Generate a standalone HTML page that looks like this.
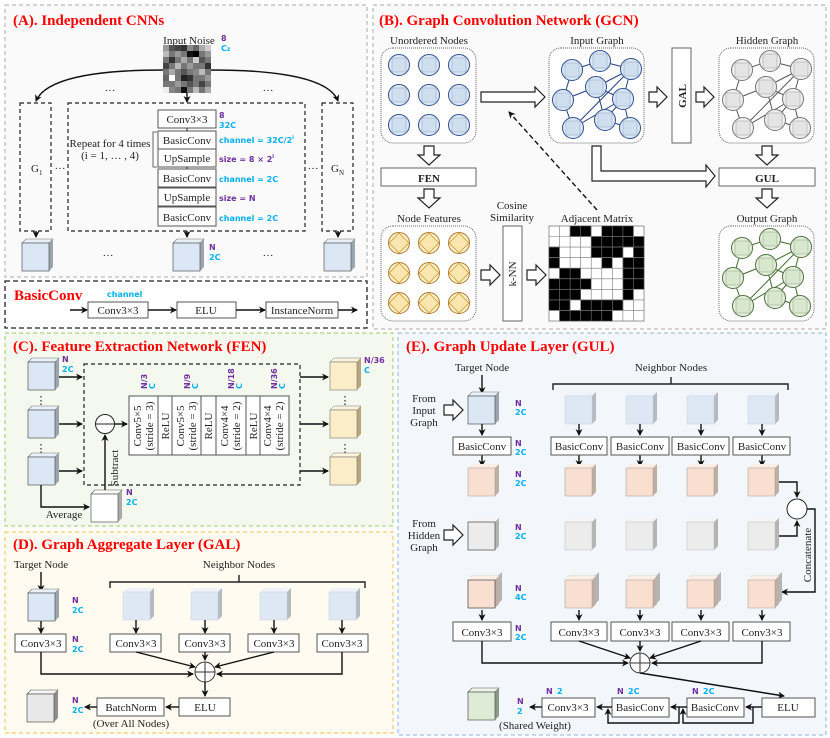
<!DOCTYPE html>
<html><head><meta charset="utf-8"><style>
html,body{margin:0;padding:0;background:#fff}
svg{display:block}
text{font-family:"Liberation Serif",serif;font-size:11px;fill:#222}
.t{font-weight:bold;font-size:15px;fill:#f00}
.p{font-family:"DejaVu Sans",sans-serif;font-weight:bold;font-size:8px;fill:#7030a0}
.c{font-family:"DejaVu Sans",sans-serif;font-weight:bold;font-size:8px;fill:#00b0f0}
.bx{fill:#fff;stroke:#555;stroke-width:1}
.ln{fill:none;stroke:#111;stroke-width:1.4}
.ha{fill:#fff;stroke:#222;stroke-width:1.2}
</style></head><body>
<svg width="830" height="738" viewBox="0 0 830 738" xmlns="http://www.w3.org/2000/svg">
<defs>
<marker id="ar" markerWidth="8" markerHeight="8" refX="6" refY="4" orient="auto" markerUnits="userSpaceOnUse"><path d="M0,0.5 L7,4 L0,7.5 L2,4z" fill="#111"/></marker>
<g id="cB"><polygon points="0,0 4,-4 31,-4 27,0" fill="#eaf0f8" stroke="#777" stroke-width=".6"/><polygon points="27,0 31,-4 31,24 27,28" fill="#9ca4ae"/><rect x="0" y="0" width="27" height="28" fill="#dbe7f4" stroke="#555" stroke-width=".7"/></g>
<g id="cBl"><polygon points="0,0 4,-4 31,-4 27,0" fill="#eef3f9"/><polygon points="27,0 31,-4 31,24 27,28" fill="#b4bac2"/><rect x="0" y="0" width="27" height="28" fill="#dde8f4" stroke="#ccd" stroke-width=".5"/></g>
<g id="cP"><polygon points="0,0 4,-4 31,-4 27,0" fill="#fbeee6"/><polygon points="27,0 31,-4 31,24 27,28" fill="#bfaea2"/><rect x="0" y="0" width="27" height="28" fill="#f9dfcf" stroke="#999" stroke-width=".5"/></g>
<g id="cG"><polygon points="0,0 4,-4 31,-4 27,0" fill="#f4f4f4"/><polygon points="27,0 31,-4 31,24 27,28" fill="#b4b4b4"/><rect x="0" y="0" width="27" height="28" fill="#ececec" stroke="#bbb" stroke-width=".5"/></g>
<g id="cGd"><polygon points="0,0 4,-4 31,-4 27,0" fill="#f4f4f4" stroke="#555" stroke-width=".6"/><polygon points="27,0 31,-4 31,24 27,28" fill="#8e8e8e"/><rect x="0" y="0" width="27" height="28" fill="#e8e8e8" stroke="#555" stroke-width=".7"/></g>
<g id="cY"><polygon points="0,0 4,-4 31,-4 27,0" fill="#fdf4dc" stroke="#777" stroke-width=".5"/><polygon points="27,0 31,-4 31,24 27,28" fill="#b8a67a"/><rect x="0" y="0" width="27" height="28" fill="#fbedc8" stroke="#777" stroke-width=".6"/></g>
<g id="cW"><polygon points="0,0 4,-4 31,-4 27,0" fill="#fff" stroke="#555" stroke-width=".6"/><polygon points="27,0 31,-4 31,24 27,28" fill="#aaa"/><rect x="0" y="0" width="27" height="28" fill="#fff" stroke="#555" stroke-width=".7"/></g>
<g id="cGr"><polygon points="0,0 4,-4 31,-4 27,0" fill="#eef5ea" stroke="#555" stroke-width=".6"/><polygon points="27,0 31,-4 31,24 27,28" fill="#8a9886"/><rect x="0" y="0" width="27" height="28" fill="#deecd6" stroke="#555" stroke-width=".7"/></g>
<g id="nb"><circle r="10.5" fill="#dbe7f4" stroke="#2f4f8f" stroke-width="1"/><rect x="-7" y="-7" width="14" height="14" fill="#cfdff0" stroke="#9fb0c8" stroke-width=".6"/></g>
<g id="ng"><circle r="10.5" fill="#eeeeee" stroke="#777" stroke-width="1"/><rect x="-7" y="-7" width="14" height="14" fill="#e4e4e4" stroke="#aaa" stroke-width=".6"/></g>
<g id="ngr"><circle r="10.5" fill="#e4f0dc" stroke="#4f6f3f" stroke-width="1"/><rect x="-7" y="-7" width="14" height="14" fill="#d8e8cf" stroke="#9aaa92" stroke-width=".6"/></g>
<g id="ny"><circle r="10.5" fill="#fdeec8" stroke="#b07a30" stroke-width="1"/><rect x="-7" y="-7" width="14" height="14" transform="rotate(45)" fill="#fbe6b0" stroke="#c99a2a" stroke-width=".8"/></g>
<g id="edges"><path d="M23,22 L51,13 L82,21 M23,22 L14,52 L47,39 L82,21 M82,21 L74,51 M82,21 L24,80 M74,51 L56,72 L81,80 M74,51 L81,80 M47,39 L56,72 M14,52 L24,80 M24,80 L74,51 M47,39 L74,51" fill="none" stroke-width="1"/></g>
<g id="gnodes"></g>
</defs>

<!-- Panel A -->
<rect x="5" y="5" width="362" height="272" fill="#fafafa" stroke="#aaa" stroke-dasharray="4,3"/>
<text x="13" y="25" class="t">(A).  Independent CNNs</text>
<text x="189" y="44" text-anchor="middle">Input Noise</text>
<text x="221" y="41" class="p">8</text><text x="221" y="51" class="c">C<tspan font-size="6">z</tspan></text>
<g>
<rect x="163" y="45" width="48" height="48" fill="#777"/>
<rect x="163" y="45" width="6" height="6" fill="#9a9a9a"/><rect x="169" y="45" width="6" height="6" fill="#555"/><rect x="175" y="45" width="6" height="6" fill="#444"/><rect x="181" y="45" width="6" height="6" fill="#333"/><rect x="187" y="45" width="6" height="6" fill="#888"/><rect x="193" y="45" width="6" height="6" fill="#666"/><rect x="199" y="45" width="6" height="6" fill="#aaa"/><rect x="205" y="45" width="6" height="6" fill="#ccc"/>
<rect x="163" y="51" width="6" height="6" fill="#bbb"/><rect x="175" y="51" width="6" height="6" fill="#999"/><rect x="187" y="51" width="6" height="6" fill="#111"/><rect x="193" y="51" width="6" height="6" fill="#000"/><rect x="205" y="51" width="6" height="6" fill="#999"/>
<rect x="169" y="57" width="6" height="6" fill="#333"/><rect x="181" y="57" width="6" height="6" fill="#aaa"/><rect x="193" y="57" width="6" height="6" fill="#ccc"/><rect x="199" y="57" width="6" height="6" fill="#555"/>
<rect x="163" y="63" width="6" height="6" fill="#444"/><rect x="175" y="63" width="6" height="6" fill="#bbb"/><rect x="187" y="63" width="6" height="6" fill="#999"/><rect x="205" y="63" width="6" height="6" fill="#333"/>
<rect x="169" y="69" width="6" height="6" fill="#aaa"/><rect x="181" y="69" width="6" height="6" fill="#555"/><rect x="193" y="69" width="6" height="6" fill="#888"/><rect x="199" y="69" width="6" height="6" fill="#bbb"/>
<rect x="163" y="75" width="6" height="6" fill="#666"/><rect x="169" y="75" width="6" height="6" fill="#fff"/><rect x="181" y="75" width="6" height="6" fill="#222"/><rect x="187" y="75" width="6" height="6" fill="#333"/><rect x="205" y="75" width="6" height="6" fill="#999"/>
<rect x="175" y="81" width="6" height="6" fill="#999"/><rect x="187" y="81" width="6" height="6" fill="#555"/><rect x="199" y="81" width="6" height="6" fill="#444"/>
<rect x="163" y="87" width="6" height="6" fill="#eee"/><rect x="169" y="87" width="6" height="6" fill="#888"/><rect x="181" y="87" width="6" height="6" fill="#111"/><rect x="193" y="87" width="6" height="6" fill="#bbb"/><rect x="205" y="87" width="6" height="6" fill="#aaa"/>
</g>
<path class="ln" d="M163,70 C90,70 45,80 36,101" marker-end="url(#ar)"/>
<path class="ln" d="M211,70 C285,70 330,80 338,101" marker-end="url(#ar)"/>
<path class="ln" d="M187,93 L187,102" marker-end="url(#ar)"/>
<text x="110" y="94" text-anchor="middle">···</text><text x="268" y="94" text-anchor="middle">···</text>
<g fill="none" stroke="#222" stroke-dasharray="4,3" stroke-width="1.2">
<rect x="20" y="103" width="31" height="128"/><rect x="68" y="103" width="237" height="128"/><rect x="322" y="103" width="31" height="128"/></g>
<text x="31" y="172">G<tspan font-size="7" dy="3">1</tspan></text>
<text x="331" y="172">G<tspan font-size="7" dy="3">N</tspan></text>
<text x="60" y="172" text-anchor="middle">···</text><text x="313" y="172" text-anchor="middle">···</text>
<g class="bx"><rect x="158" y="110" width="58" height="18"/><rect x="158" y="131" width="58" height="18"/><rect x="158" y="149" width="58" height="18"/><rect x="158" y="169" width="58" height="18"/><rect x="158" y="188" width="58" height="18"/><rect x="158" y="207" width="58" height="19"/></g>
<g text-anchor="middle"><text x="187" y="123">Conv3×3</text><text x="187" y="144">BasicConv</text><text x="187" y="162">UpSample</text><text x="187" y="182">BasicConv</text><text x="187" y="201">UpSample</text><text x="187" y="221">BasicConv</text></g>
<path d="M187,128 V131 M187,167 V169" stroke="#222"/>
<text x="219" y="118" class="p">8</text><text x="219" y="128" class="c">32C</text>
<text x="219" y="143" class="c">channel = 32C/2<tspan font-size="5" dy="-4">i</tspan></text>
<text x="219" y="162" class="p">size = 8 × 2<tspan font-size="5" dy="-4">i</tspan></text>
<text x="219" y="182" class="c">channel = 2C</text>
<text x="219" y="201" class="p">size = N</text>
<text x="219" y="221" class="c">channel = 2C</text>
<path d="M157,132 H153 V167 H157" fill="none" stroke="#666"/>
<text x="110" y="147" text-anchor="middle" font-size="9.5">Repeat for 4 times</text>
<text x="110" y="159" text-anchor="middle" font-size="9.5">(i = 1, … , 4)</text>
<path class="ln" d="M36,231 V237" marker-end="url(#ar)"/><path class="ln" d="M187,231 V237" marker-end="url(#ar)"/><path class="ln" d="M338,231 V237" marker-end="url(#ar)"/>
<use href="#cB" x="22" y="243"/><use href="#cB" x="173" y="243"/><use href="#cB" x="324" y="243"/>
<text x="209" y="250" class="p">N</text><text x="209" y="260" class="c">2C</text>
<text x="108" y="259" text-anchor="middle">···</text><text x="268" y="259" text-anchor="middle">···</text>

<!-- BasicConv -->
<rect x="5" y="281" width="362" height="47" fill="#fff" stroke="#222" stroke-dasharray="5,3" stroke-width="1.3"/>
<text x="14" y="300" class="t">BasicConv</text>
<text x="107" y="297" class="c" font-size="8.5">channel</text>
<g class="bx"><rect x="88" y="302" width="60" height="16"/><rect x="177" y="302" width="59" height="16"/><rect x="266" y="302" width="72" height="16"/></g>
<g text-anchor="middle"><text x="118" y="314">Conv3×3</text><text x="206" y="314">ELU</text><text x="302" y="314">InstanceNorm</text></g>
<path class="ln" d="M70,310 H87" marker-end="url(#ar)"/><path class="ln" d="M148,310 H176" marker-end="url(#ar)"/><path class="ln" d="M236,310 H265" marker-end="url(#ar)"/><path class="ln" d="M338,310 H357" marker-end="url(#ar)"/>

<!-- Panel B -->
<rect x="373" y="5" width="453" height="324" fill="#fafafa" stroke="#aaa" stroke-dasharray="4,3"/>
<text x="379" y="25" class="t">(B).  Graph Convolution Network (GCN)</text>
<g text-anchor="middle"><text x="429" y="44">Unordered Nodes</text><text x="597" y="44">Input Graph</text><text x="767" y="44">Hidden Graph</text><text x="429" y="222">Node Features</text><text x="597" y="222">Adjacent Matrix</text><text x="767" y="222">Output Graph</text><text x="512" y="209">Cosine</text><text x="512" y="221">Similarity</text></g>
<g fill="#fff" stroke="#666" stroke-dasharray="1,1"><rect x="381" y="48" width="95" height="95" rx="12"/><rect x="549" y="48" width="95" height="95" rx="12"/><rect x="719" y="48" width="95" height="95" rx="12"/><rect x="381" y="226" width="95" height="95" rx="12"/><rect x="719" y="226" width="95" height="95" rx="12"/></g>
<use href="#nb" x="399" y="65"/><use href="#nb" x="429" y="65"/><use href="#nb" x="459" y="65"/><use href="#nb" x="399" y="95"/><use href="#nb" x="429" y="95"/><use href="#nb" x="459" y="95"/><use href="#nb" x="399" y="125"/><use href="#nb" x="429" y="125"/><use href="#nb" x="459" y="125"/>
<use href="#ny" x="399" y="243"/><use href="#ny" x="429" y="243"/><use href="#ny" x="459" y="243"/><use href="#ny" x="399" y="273"/><use href="#ny" x="429" y="273"/><use href="#ny" x="459" y="273"/><use href="#ny" x="399" y="303"/><use href="#ny" x="429" y="303"/><use href="#ny" x="459" y="303"/>
<g transform="translate(549,48)"><use href="#edges" stroke="#1f3f80"/><use href="#nb" x="23" y="22"/><use href="#nb" x="51" y="13"/><use href="#nb" x="82" y="21"/><use href="#nb" x="47" y="39"/><use href="#nb" x="14" y="52"/><use href="#nb" x="74" y="51"/><use href="#nb" x="24" y="80"/><use href="#nb" x="56" y="72"/><use href="#nb" x="81" y="80"/></g>
<g transform="translate(719,48)"><use href="#edges" stroke="#555"/><use href="#ng" x="23" y="22"/><use href="#ng" x="51" y="13"/><use href="#ng" x="82" y="21"/><use href="#ng" x="47" y="39"/><use href="#ng" x="14" y="52"/><use href="#ng" x="74" y="51"/><use href="#ng" x="24" y="80"/><use href="#ng" x="56" y="72"/><use href="#ng" x="81" y="80"/></g>
<g transform="translate(719,226)"><use href="#edges" stroke="#3f6a2a"/><use href="#ngr" x="23" y="22"/><use href="#ngr" x="51" y="13"/><use href="#ngr" x="82" y="21"/><use href="#ngr" x="47" y="39"/><use href="#ngr" x="14" y="52"/><use href="#ngr" x="74" y="51"/><use href="#ngr" x="24" y="80"/><use href="#ngr" x="56" y="72"/><use href="#ngr" x="81" y="80"/></g>
<!-- hollow arrows -->
<polygon class="ha" points="481,92 535,92 535,87 545,97 535,107 535,102 481,102"/>
<polygon class="ha" points="649,92 657,92 657,87 667,97 657,107 657,102 649,102"/>
<polygon class="ha" points="696,92 704,92 704,87 714,97 704,107 704,102 696,102"/>
<polygon class="ha" points="481,270 490,270 490,265 500,275 490,285 490,280 481,280"/>
<polygon class="ha" points="527,270 536,270 536,265 546,275 536,285 536,280 527,280"/>
<polygon class="ha" points="424,146 434,146 434,155 440,155 429,165 418,155 424,155"/>
<polygon class="ha" points="424,189 434,189 434,198 440,198 429,208 418,198 424,198"/>
<polygon class="ha" points="762,146 772,146 772,155 778,155 767,165 756,155 762,155"/>
<polygon class="ha" points="762,189 772,189 772,198 778,198 767,208 756,198 762,198"/>
<polygon class="ha" points="592,146 601,146 601,171 706,171 706,165 715,176 706,187 706,181 592,181"/>
<rect x="381" y="168" width="95" height="18" fill="#fff" stroke="#666"/><text x="429" y="182" text-anchor="middle" font-weight="bold" font-size="12" fill="#f00">FEN</text>
<rect x="719" y="168" width="96" height="18" fill="#fff" stroke="#666"/><text x="767" y="182" text-anchor="middle" font-weight="bold" font-size="12" fill="#f00">GUL</text>
<rect x="672" y="48" width="19" height="95" fill="#fff" stroke="#666"/><text transform="translate(686,96) rotate(-90)" text-anchor="middle" font-weight="bold" font-size="12" fill="#f00">GAL</text>
<rect x="503" y="226" width="19" height="95" fill="#fff" stroke="#666"/><text transform="translate(516,274) rotate(-90)" text-anchor="middle">k-NN</text>
<path d="M597,210 L509,112" stroke="#111" stroke-width="1.4" stroke-dasharray="5,3" fill="none" marker-end="url(#ar)"/>
<g transform="translate(549,226)" stroke="#555" stroke-width=".6">
<rect width="95" height="95" fill="#fff"/>
<g fill="#000">
<rect x="21" y="0" width="21" height="10.5"/><rect x="52.7" y="0" width="31.7" height="10.5"/>
<rect x="42.2" y="10.5" width="52.8" height="10.5"/>
<rect x="0" y="21" width="10.5" height="10.5"/><rect x="42.2" y="21" width="31.7" height="10.5"/><rect x="84.4" y="21" width="10.6" height="10.5"/>
<rect x="0" y="31.6" width="10.5" height="10.5"/><rect x="52.7" y="31.6" width="10.5" height="10.5"/><rect x="73.9" y="31.6" width="21.1" height="10.5"/>
<rect x="10.5" y="42.2" width="21" height="10.5"/><rect x="73.9" y="42.2" width="21.1" height="10.5"/>
<rect x="0" y="52.7" width="42.2" height="10.5"/><rect x="73.9" y="52.7" width="21.1" height="10.5"/>
<rect x="0" y="63.3" width="31.7" height="10.5"/><rect x="73.9" y="63.3" width="10.5" height="10.5"/>
<rect x="0" y="73.8" width="21.1" height="10.5"/><rect x="31.7" y="73.8" width="42.2" height="10.5"/>
<rect x="10.5" y="84.4" width="52.8" height="10.6"/>
</g>
<path d="M10.5,0V95M21.1,0V95M31.7,0V95M42.2,0V95M52.8,0V95M63.3,0V95M73.9,0V95M84.4,0V95M0,10.5H95M0,21.1H95M0,31.7H95M0,42.2H95M0,52.8H95M0,63.3H95M0,73.9H95M0,84.4H95" fill="none" stroke="#777"/>
</g>

<!-- Panel C -->
<rect x="5" y="333" width="388" height="193" fill="#f4f8ee" stroke="#9c6" stroke-dasharray="4,3"/>
<text x="13" y="351" class="t">(C).  Feature Extraction Network (FEN)</text>
<use href="#cB" x="28" y="362"/><use href="#cB" x="28" y="410"/><use href="#cB" x="28" y="457"/>
<text x="62" y="362" class="p">N</text><text x="62" y="372" class="c">2C</text>
<text x="41" y="404" text-anchor="middle">⋮</text><text x="41" y="452" text-anchor="middle">⋮</text>
<rect x="84" y="364" width="216" height="121" fill="none" stroke="#222" stroke-dasharray="4,3" stroke-width="1.2"/>
<path class="ln" d="M59,377 H82" marker-end="url(#ar)"/><path class="ln" d="M59,424 H82" marker-end="url(#ar)"/><path class="ln" d="M59,471 H82" marker-end="url(#ar)"/>
<circle cx="105" cy="424" r="9.5" fill="#fff" stroke="#222"/><path d="M96,424 H114" stroke="#222"/>
<path class="ln" d="M115,424 H127" marker-end="url(#ar)"/>
<g class="bx" fill="#fff"><rect x="129" y="396" width="160" height="59"/></g>
<path d="M158,396V455M172,396V455M201,396V455M216,396V455M246,396V455M260,396V455" stroke="#555"/>
<g text-anchor="middle">
<text transform="translate(141,426) rotate(-90)">Conv5×5</text><text transform="translate(153,426) rotate(-90)">(stride = 3)</text>
<text transform="translate(169,426) rotate(-90)">ReLU</text>
<text transform="translate(184,426) rotate(-90)">Conv5×5</text><text transform="translate(196,426) rotate(-90)">(stride = 3)</text>
<text transform="translate(212,426) rotate(-90)">ReLU</text>
<text transform="translate(228,426) rotate(-90)">Conv4×4</text><text transform="translate(240,426) rotate(-90)">(stride = 2)</text>
<text transform="translate(257,426) rotate(-90)">ReLU</text>
<text transform="translate(271,426) rotate(-90)">Conv4×4</text><text transform="translate(283,426) rotate(-90)">(stride = 2)</text>
</g>
<g><text transform="translate(147,389) rotate(-90)" class="p">N/3</text><text transform="translate(151,389) rotate(-90)" class="c" dy="4">C</text>
<text transform="translate(190,389) rotate(-90)" class="p">N/9</text><text transform="translate(194,389) rotate(-90)" class="c" dy="4">C</text>
<text transform="translate(234,389) rotate(-90)" class="p">N/18</text><text transform="translate(238,389) rotate(-90)" class="c" dy="4">C</text>
<text transform="translate(277,389) rotate(-90)" class="p">N/36</text><text transform="translate(281,389) rotate(-90)" class="c" dy="4">C</text></g>
<path class="ln" d="M300,377 H328" marker-end="url(#ar)"/><path class="ln" d="M300,424 H328" marker-end="url(#ar)"/><path class="ln" d="M300,471 H328" marker-end="url(#ar)"/>
<use href="#cY" x="330" y="362"/><use href="#cY" x="330" y="410"/><use href="#cY" x="330" y="457"/>
<text x="364" y="363" class="p">N/36</text><text x="364" y="373" class="c">C</text>
<text x="345" y="404" text-anchor="middle">⋮</text><text x="345" y="452" text-anchor="middle">⋮</text>
<use href="#cW" x="91" y="494"/>
<path class="ln" d="M41,485 V507 H89" marker-end="url(#ar)"/>
<text x="64" y="518" text-anchor="middle">Average</text>
<path class="ln" d="M105,490 V435" marker-end="url(#ar)"/>
<text transform="translate(118,468) rotate(-90)" text-anchor="middle">Subtract</text>
<text x="126" y="495" class="p">N</text><text x="126" y="505" class="c">2C</text>

<!-- Panel D -->
<rect x="5" y="532" width="388" height="201" fill="#fffbf0" stroke="#f0c040" stroke-dasharray="4,3"/>
<text x="13" y="549" class="t">(D).  Graph Aggregate Layer (GAL)</text>
<text x="41" y="568" text-anchor="middle">Target Node</text>
<text x="239" y="568" text-anchor="middle">Neighbor Nodes</text>
<path d="M110,588 V582 H365 V588 M239,582 V575" fill="none" stroke="#222" stroke-width="1.4"/>
<path class="ln" d="M41,572 V591" marker-end="url(#ar)"/>
<use href="#cB" x="28" y="593"/>
<use href="#cBl" x="123" y="592"/><use href="#cBl" x="191" y="592"/><use href="#cBl" x="260" y="592"/><use href="#cBl" x="329" y="592"/>
<text x="72" y="603" class="p">N</text><text x="72" y="613" class="c">2C</text>
<text x="72" y="642" class="p">N</text><text x="72" y="652" class="c">2C</text>
<path class="ln" d="M41,621 V633" marker-end="url(#ar)"/><path class="ln" d="M136,620 V633" marker-end="url(#ar)"/><path class="ln" d="M205,620 V633" marker-end="url(#ar)"/><path class="ln" d="M274,620 V633" marker-end="url(#ar)"/><path class="ln" d="M342,620 V633" marker-end="url(#ar)"/>
<g class="bx"><rect x="15" y="634" width="51" height="18"/><rect x="110" y="634" width="51" height="18"/><rect x="179" y="634" width="51" height="18"/><rect x="248" y="634" width="51" height="18"/><rect x="317" y="634" width="51" height="18"/></g>
<g text-anchor="middle"><text x="41" y="647">Conv3×3</text><text x="136" y="647">Conv3×3</text><text x="205" y="647">Conv3×3</text><text x="274" y="647">Conv3×3</text><text x="342" y="647">Conv3×3</text></g>
<circle cx="205" cy="672" r="10" fill="#fff" stroke="#333"/><path d="M195,672H215M205,662V682" stroke="#333"/>
<path class="ln" d="M41,652 V674 H193" marker-end="url(#ar)"/><path class="ln" d="M342,652 V674 H217" marker-end="url(#ar)"/>
<path class="ln" d="M136,652 L195,667" marker-end="url(#ar)"/><path class="ln" d="M274,652 L215,667" marker-end="url(#ar)"/><path class="ln" d="M205,652 V660" marker-end="url(#ar)"/>
<path class="ln" d="M205,682 V696" marker-end="url(#ar)"/>
<g class="bx"><rect x="179" y="698" width="51" height="18"/><rect x="97" y="698" width="67" height="18"/></g>
<text x="205" y="711" text-anchor="middle">ELU</text><text x="131" y="711" text-anchor="middle">BatchNorm</text>
<text x="131" y="727" text-anchor="middle">(Over All Nodes)</text>
<path class="ln" d="M179,707 H166" marker-end="url(#ar)"/><path class="ln" d="M97,707 H85" marker-end="url(#ar)"/>
<use href="#cGd" x="27" y="694"/>
<text x="72" y="703" class="p">N</text><text x="72" y="713" class="c">2C</text>

<!-- Panel E -->
<rect x="398" y="333" width="428" height="402" fill="#f3f7fc" stroke="#8bb4e0" stroke-dasharray="4,3"/>
<text x="406" y="351" class="t">(E).  Graph Update Layer (GUL)</text>
<text x="482" y="371" text-anchor="middle">Target Node</text>
<text x="671" y="371" text-anchor="middle">Neighbor Nodes</text>
<path d="M553,390 V384 H788 V390 M671,384 V377" fill="none" stroke="#222" stroke-width="1.4"/>
<path class="ln" d="M482,375 V393" marker-end="url(#ar)"/>
<g text-anchor="middle"><text x="424" y="402">From</text><text x="424" y="414">Input</text><text x="424" y="426">Graph</text><text x="424" y="527">From</text><text x="424" y="539">Hidden</text><text x="424" y="551">Graph</text></g>
<polygon class="ha" points="444,405 453,405 453,400 463,410 453,420 453,415 444,415"/>
<polygon class="ha" points="444,530 453,530 453,525 463,535 453,545 453,540 444,540"/>
<use href="#cB" x="468" y="396"/>
<use href="#cBl" x="565" y="396"/><use href="#cBl" x="626" y="396"/><use href="#cBl" x="687" y="396"/><use href="#cBl" x="748" y="396"/>
<text x="515" y="406" class="p">N</text><text x="515" y="415" class="c">2C</text>
<text x="515" y="446" class="p">N</text><text x="515" y="455" class="c">2C</text>
<text x="515" y="477" class="p">N</text><text x="515" y="486" class="c">2C</text>
<text x="515" y="530" class="p">N</text><text x="515" y="539" class="c">2C</text>
<text x="515" y="591" class="p">N</text><text x="515" y="600" class="c">4C</text>
<text x="515" y="631" class="p">N</text><text x="515" y="640" class="c">2C</text>
<g><path class="ln" d="M482,424 V435" marker-end="url(#ar)"/><path class="ln" d="M579,424 V435" marker-end="url(#ar)"/><path class="ln" d="M640,424 V435" marker-end="url(#ar)"/><path class="ln" d="M701,424 V435" marker-end="url(#ar)"/><path class="ln" d="M762,424 V435" marker-end="url(#ar)"/>
<path class="ln" d="M482,455 V466" marker-end="url(#ar)"/><path class="ln" d="M579,455 V466" marker-end="url(#ar)"/><path class="ln" d="M640,455 V466" marker-end="url(#ar)"/><path class="ln" d="M701,455 V466" marker-end="url(#ar)"/><path class="ln" d="M762,455 V466" marker-end="url(#ar)"/></g>
<g class="bx"><rect x="453" y="437" width="58" height="18"/><rect x="551" y="437" width="56" height="18"/><rect x="611" y="437" width="58" height="18"/><rect x="672" y="437" width="57" height="18"/><rect x="733" y="437" width="57" height="18"/></g>
<g text-anchor="middle"><text x="482" y="450">BasicConv</text><text x="579" y="450">BasicConv</text><text x="640" y="450">BasicConv</text><text x="701" y="450">BasicConv</text><text x="762" y="450">BasicConv</text></g>
<use href="#cP" x="468" y="468"/><use href="#cP" x="565" y="468"/><use href="#cP" x="626" y="468"/><use href="#cP" x="687" y="468"/><use href="#cP" x="748" y="468"/>
<use href="#cG" x="468" y="522"/><use href="#cG" x="565" y="522"/><use href="#cG" x="626" y="522"/><use href="#cG" x="687" y="522"/><use href="#cG" x="748" y="522"/>
<rect x="468" y="522" width="27" height="28" fill="none" stroke="#555" stroke-width=".7"/>
<circle cx="797" cy="509" r="10" fill="#fff" stroke="#222"/>
<path class="ln" d="M779,482 H797 V497" marker-end="url(#ar)"/>
<path class="ln" d="M779,536 H797 V521" marker-end="url(#ar)"/>
<path class="ln" d="M807,509 H815 V592 H782" marker-end="url(#ar)"/>
<text transform="translate(811,555) rotate(-90)" text-anchor="middle">Concatenate</text>
<g><use href="#cG" x="471" y="576"/><use href="#cP" x="468" y="580"/><use href="#cG" x="568" y="576"/><use href="#cP" x="565" y="580"/><use href="#cG" x="629" y="576"/><use href="#cP" x="626" y="580"/><use href="#cG" x="690" y="576"/><use href="#cP" x="687" y="580"/><use href="#cG" x="751" y="576"/><use href="#cP" x="748" y="580"/></g>
<rect x="468" y="580" width="27" height="28" fill="none" stroke="#555" stroke-width=".7"/>
<g><path class="ln" d="M482,610 V620" marker-end="url(#ar)"/><path class="ln" d="M579,610 V620" marker-end="url(#ar)"/><path class="ln" d="M640,610 V620" marker-end="url(#ar)"/><path class="ln" d="M701,610 V620" marker-end="url(#ar)"/><path class="ln" d="M762,610 V620" marker-end="url(#ar)"/></g>
<g class="bx"><rect x="453" y="622" width="58" height="19"/><rect x="551" y="622" width="56" height="19"/><rect x="611" y="622" width="58" height="19"/><rect x="672" y="622" width="57" height="19"/><rect x="733" y="622" width="57" height="19"/></g>
<g text-anchor="middle"><text x="482" y="636">Conv3×3</text><text x="579" y="636">Conv3×3</text><text x="640" y="636">Conv3×3</text><text x="701" y="636">Conv3×3</text><text x="762" y="636">Conv3×3</text></g>
<circle cx="640" cy="663" r="10" fill="#fff" stroke="#333"/><path d="M630,663H650M640,653V673" stroke="#333"/>
<path class="ln" d="M482,641 V663 H628" marker-end="url(#ar)"/><path class="ln" d="M762,641 V663 H652" marker-end="url(#ar)"/>
<path class="ln" d="M579,641 L630,658" marker-end="url(#ar)"/><path class="ln" d="M701,641 L650,658" marker-end="url(#ar)"/><path class="ln" d="M640,641 V651" marker-end="url(#ar)"/>
<path class="ln" d="M640,673 L784,696" marker-end="url(#ar)"/>
<g class="bx"><rect x="762" y="698" width="53" height="19"/><rect x="687" y="698" width="57" height="19"/><rect x="612" y="698" width="57" height="19"/><rect x="542" y="698" width="53" height="19"/></g>
<g text-anchor="middle"><text x="788" y="711">ELU</text><text x="715" y="711">BasicConv</text><text x="640" y="711">BasicConv</text><text x="568" y="711">Conv3×3</text></g>
<text x="535" y="729" text-anchor="middle">(Shared Weight)</text>
<path class="ln" d="M762,707 H746" marker-end="url(#ar)"/><path class="ln" d="M687,707 H671" marker-end="url(#ar)"/><path class="ln" d="M612,707 H597" marker-end="url(#ar)"/><path class="ln" d="M542,707 H530" marker-end="url(#ar)"/>
<path class="ln" d="M753,707 V723 H683 V709" marker-end="url(#ar)"/><path class="ln" d="M679,707 V723 H608 V709" marker-end="url(#ar)"/>
<text x="546" y="694" class="p">N</text><text x="557" y="694" class="c">2</text>
<text x="617" y="694" class="p">N</text><text x="628" y="694" class="c">2C</text>
<text x="692" y="694" class="p">N</text><text x="703" y="694" class="c">2C</text>
<text x="517" y="704" class="p">N</text><text x="517" y="714" class="c">2</text>
<use href="#cGr" x="468" y="692"/>
</svg>
</body></html>
